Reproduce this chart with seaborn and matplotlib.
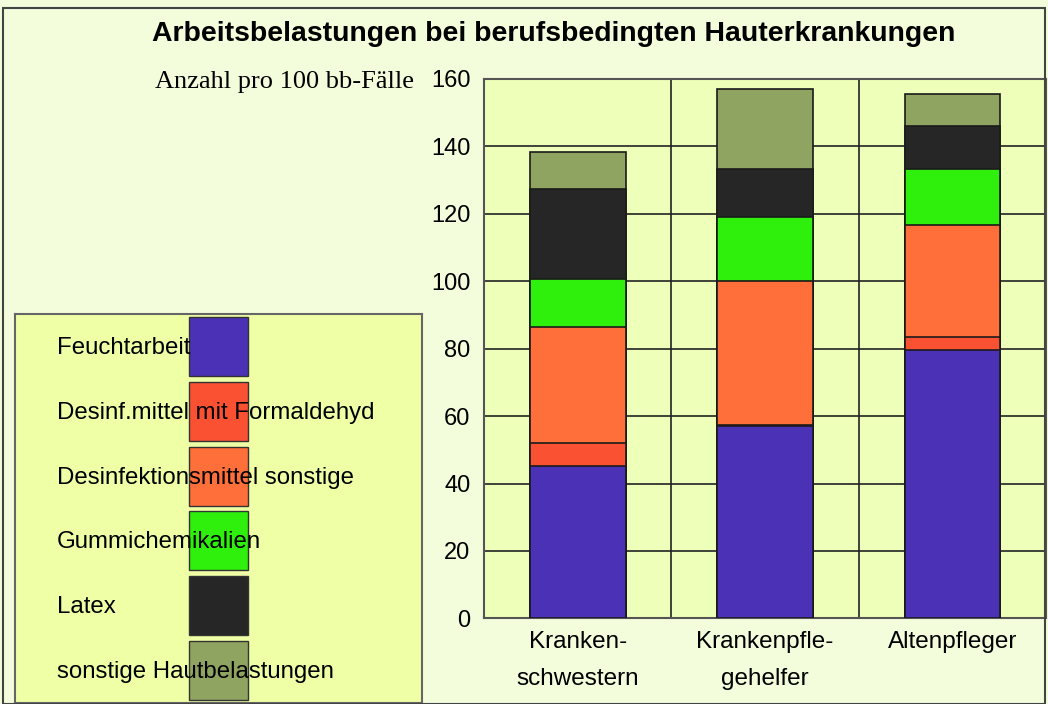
import pandas as pd
import matplotlib.pyplot as plt
import seaborn as sns
from matplotlib.patches import Rectangle

# Daten (Anzahl pro 100 bb-Fälle)
berufe = ['Kranken-\nschwestern', 'Krankenpfle-\ngehelfer', 'Altenpfleger']
belastungen = ['Feuchtarbeit', 'Desinf.mittel mit Formaldehyd', 'Desinfektionsmittel sonstige',
               'Gummichemikalien', 'Latex', 'sonstige Hautbelastungen']
feuchtarbeit = [45.2, 57.1, 79.6]
formaldehyd = [6.7, 0.2, 3.9]
desinf_sonstige = [34.6, 42.8, 33.3]
gummi = [14.3, 18.9, 16.5]
latex = [26.5, 14.3, 12.9]
sonstige = [11.0, 23.8, 9.4]
farben = ['#4a31b6', '#fb5133', '#fe6f39', '#2ef00c', '#262626', '#90a461']

serien = [feuchtarbeit, formaldehyd, desinf_sonstige, gummi, latex, sonstige]

sns.set_style('white')
plt.rcParams['font.family'] = ['Liberation Sans', 'DejaVu Sans']
plt.rcParams['text.color'] = 'black'
plt.rcParams['xtick.color'] = 'black'
plt.rcParams['ytick.color'] = 'black'

fig = plt.figure(figsize=(10.48, 7.04), dpi=100, facecolor='#f3fcdb')
ax = fig.add_axes([0.462, 0.1216, 0.536, 0.7662])
ax.set_facecolor('#eeffb9')

# gestapelt: kumulierte Summen von oben nach unten übereinander zeichnen
df = pd.DataFrame({'beruf': berufe})
kumuliert = [0, 0, 0]
stufen = []
for s in serien:
    kumuliert = [k + v for k, v in zip(kumuliert, s)]
    stufen.append(kumuliert)
for i in range(len(serien) - 1, -1, -1):
    df['wert'] = stufen[i]
    sns.barplot(data=df, x='beruf', y='wert', color=farben[i], saturation=1,
                width=0.51, edgecolor='#1a1a1a', linewidth=1.2, ax=ax, zorder=3)

ax.set_ylim(0, 160)
ax.set_xlim(-0.5, 2.5)
ax.set_yticks(range(0, 161, 20))
ax.set_xticks([0.5, 1.5], minor=True)
ax.grid(axis='y', color='#222222', linewidth=1.2, zorder=0)
ax.grid(axis='x', which='minor', color='#222222', linewidth=1.2, zorder=0)
ax.set_axisbelow(True)
for sp in ax.spines.values():
    sp.set_color('#555555')
    sp.set_linewidth(1.5)
ax.tick_params(axis='y', labelsize=17, length=0, pad=10)
ax.tick_params(axis='x', labelsize=17.5, length=0, pad=9)
for t in ax.get_xticklabels():
    t.set_linespacing(1.9)
    t.set_verticalalignment('top')
ax.set_xlabel('')
ax.set_ylabel('')

fig.text(0.528, 0.952, 'Arbeitsbelastungen bei berufsbedingten Hauterkrankungen',
         ha='center', va='center', fontsize=20.4, fontweight='bold')
fig.text(0.395, 0.883, 'Anzahl pro 100 bb-Fälle', ha='right', va='center',
         fontsize=19, family='Liberation Serif')

# Legende als eigene Fläche
lax = fig.add_axes([0.0143, 0.0014, 0.3884, 0.5526])
lax.set_xlim(15, 422)
lax.set_ylim(703, 314)
lax.set_facecolor('#eeffa6')
lax.set_xticks([])
lax.set_yticks([])
for sp in lax.spines.values():
    sp.set_color('#666666')
    sp.set_linewidth(1.5)
for i, (name, farbe) in enumerate(zip(belastungen, farben)):
    y0 = 317 + i * 64.8
    lax.add_patch(Rectangle((189, y0), 59, 59, facecolor=farbe, edgecolor='#333333', lw=1))
    lax.text(57, y0 + 31, name, va='center', ha='left', fontsize=17.3)

# Rahmen um die Grafik
fig.add_artist(Rectangle((0.003, 0.0), 0.994, 0.988, transform=fig.transFigure,
                         fill=False, edgecolor='#444444', lw=1.5))

plt.savefig('out.png', dpi=100, facecolor=fig.get_facecolor())
